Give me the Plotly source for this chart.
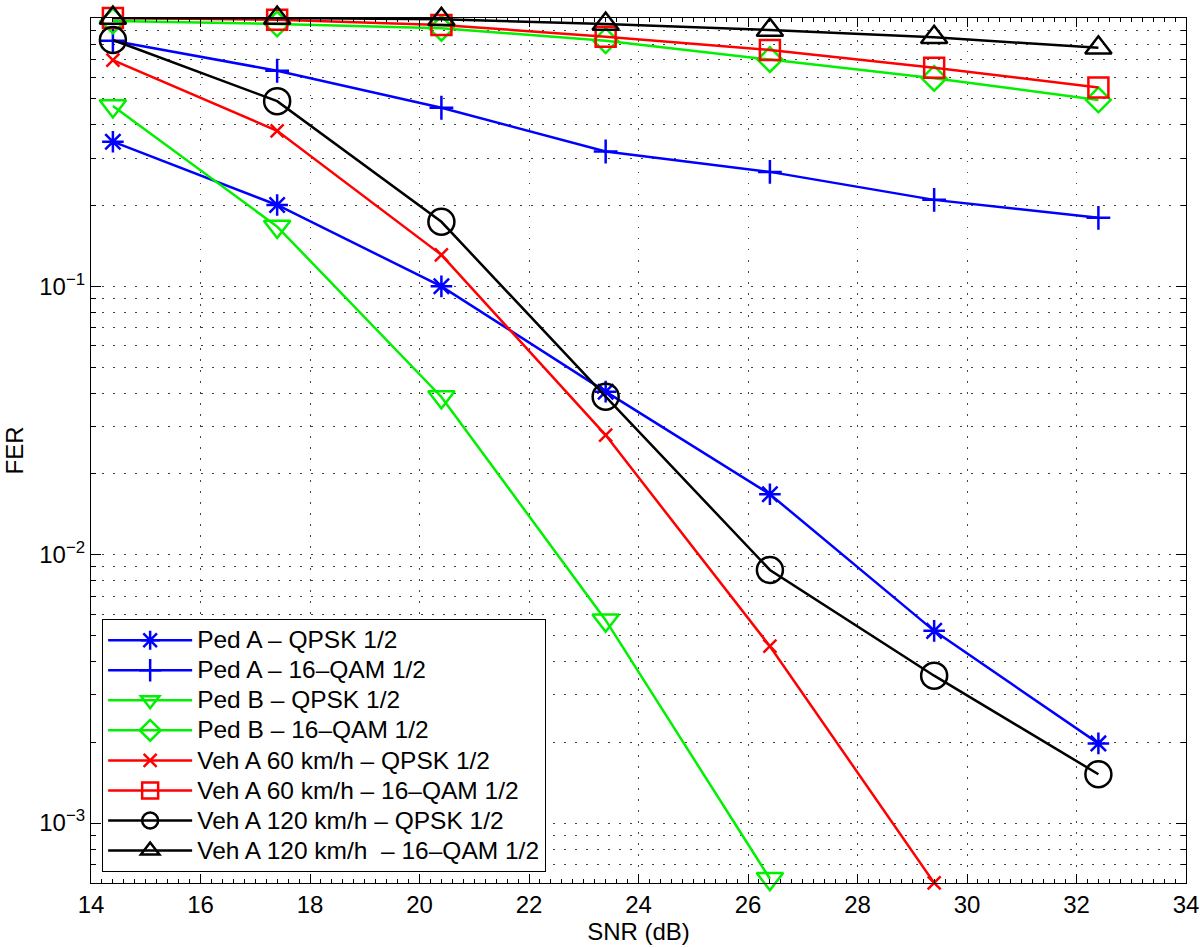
import plotly.graph_objects as go

snr = [14.4, 17.4, 20.4, 23.4, 26.4, 29.4, 32.4]

names = [
    "Ped A – QPSK 1/2",
    "Ped A – 16–QAM 1/2",
    "Ped B – QPSK 1/2",
    "Ped B – 16–QAM 1/2",
    "Veh A 60 km/h – QPSK 1/2",
    "Veh A 60 km/h – 16–QAM 1/2",
    "Veh A 120 km/h – QPSK 1/2",
    "Veh A 120 km/h  – 16–QAM 1/2",
]

ped_a_qpsk = [0.346, 0.201, 0.100, 0.0405, 0.0168, 0.0052, 0.00198]
ped_a_16qam = [0.823, 0.636, 0.463, 0.318, 0.267, 0.210, 0.180]
ped_b_qpsk = [0.470, 0.167, 0.0387, 0.0057, 0.00062]
ped_b_16qam = [0.975, 0.95, 0.915, 0.823, 0.700, 0.596, 0.495]
veh60_qpsk = [0.697, 0.380, 0.131, 0.0279, 0.00456, 0.000598]
veh60_16qam = [1.0, 0.985, 0.942, 0.852, 0.760, 0.653, 0.551]
veh120_qpsk = [0.828, 0.490, 0.174, 0.0388, 0.00877, 0.00354, 0.00152]
veh120_16qam = [1.0, 1.0, 0.989, 0.950, 0.902, 0.847, 0.775]

series = [ped_a_qpsk, ped_a_16qam, ped_b_qpsk, ped_b_16qam,
          veh60_qpsk, veh60_16qam, veh120_qpsk, veh120_16qam]
colors = ["#0000ff", "#0000ff", "#00f000", "#00f000",
          "#ff0000", "#ff0000", "#000000", "#000000"]
symbols = ["asterisk-open", "cross-thin-open", "triangle-down-open", "diamond-open",
           "x-thin-open", "square-open", "circle-open", "triangle-up-open"]
sizes = [18, 17, 23, 19, 13, 20, 26, 23]

ytick_vals = [1e-3, 1e-2, 1e-1]
ytick_text = ["10<sup>−3</sup>", "10<sup>−2</sup>", "10<sup>−1</sup>"]
xtick_vals = [14, 16, 18, 20, 22, 24, 26, 28, 30, 32, 34]
minor_y = [k * 10.0 ** e for e in range(-4, 0) for k in range(2, 10)]

FONT = "Liberation Sans, Arial, Helvetica, sans-serif"

fig = go.Figure()
for name, vals, col, sym, sz in zip(names, series, colors, symbols, sizes):
    fig.add_trace(go.Scatter(
        x=snr[:len(vals)], y=vals, name=f'<span style="font-size:24.5px">{name}</span>',
        mode="lines+markers",
        line=dict(color=col, width=2.5),
        marker=dict(symbol=sym, size=sz, color=col, line=dict(color=col, width=2.5)),
        cliponaxis=False,
    ))

grid_dash = "1.5px,9.5px"
fig.update_layout(
    width=1200, height=948,
    margin=dict(l=91, r=14, t=18, b=65),
    paper_bgcolor="white", plot_bgcolor="white",
    font=dict(family=FONT, size=24, color="black"),
    showlegend=True,
    legend=dict(
        x=0.010, y=0.0127, xanchor="left", yanchor="bottom",
        bgcolor="white", bordercolor="black", borderwidth=1.2,
        font=dict(family=FONT, size=20.8, color="black"),
        itemwidth=84, tracegroupgap=0,
    ),
    xaxis=dict(
        range=[14, 34], tickvals=xtick_vals, automargin=False,
        showline=True, linecolor="black", linewidth=1.2, mirror="allticks",
        ticks="inside", ticklen=9, tickcolor="black", tickwidth=1,
        showgrid=True, gridcolor="#444444", gridwidth=1, griddash=grid_dash,
        zeroline=False,
        minor=dict(dtick=0.2, ticks="inside", ticklen=4, tickcolor="black", showgrid=False),
        tickfont=dict(size=24),
        title=dict(text="SNR (dB)", font=dict(size=24), standoff=2),
    ),
    yaxis=dict(
        type="log", range=[-3.2236, 0.0], automargin=False,
        tickvals=ytick_vals, ticktext=ytick_text,
        showline=True, linecolor="black", linewidth=1.2, mirror="allticks",
        ticks="inside", ticklen=10, tickcolor="black", tickwidth=1,
        showgrid=True, gridcolor="#444444", gridwidth=1, griddash=grid_dash,
        zeroline=False,
        minor=dict(tickvals=minor_y, ticks="inside", ticklen=5, tickcolor="black",
                   showgrid=True, gridcolor="#444444", gridwidth=1, griddash=grid_dash),
        tickfont=dict(size=24),
        title=dict(text="FER", font=dict(size=24), standoff=8),
    ),
)

fig.write_html("out.html", config={"displayModeBar": False},
               post_script="document.body.style.margin='0px';")
